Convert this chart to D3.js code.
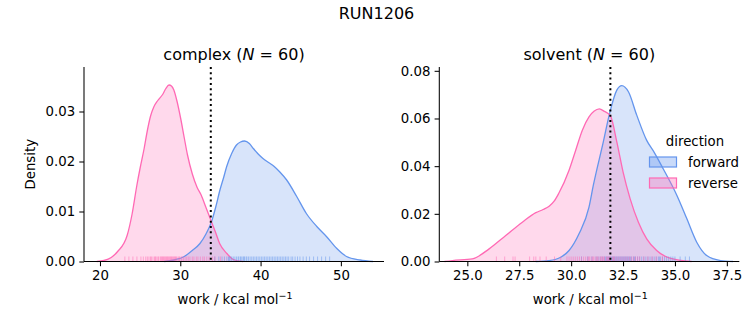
<!DOCTYPE html>
<html><head><meta charset="utf-8">
<script src="https://cdn.jsdelivr.net/npm/d3@7"></script>
<style>body{margin:0;background:#fff}svg{font-family:"DejaVu Sans",sans-serif}</style>
</head><body><svg id="c" width="753" height="325"></svg>
<script>
const figTitle = "RUN1206";
const directions = ["forward", "reverse"];
const colors = {forward: "#6495ED", reverse: "#FF69B4"};

// KDE curves: [work, density]
const complexForward = [[28.0,0],[29.2,0.0003],[30.5,0.001],[31.5,0.0022],[32.45,0.0036],[33.2,0.0055],[33.9,0.008],[34.4,0.0108],[34.94,0.0143],[35.4,0.0168],[35.78,0.019],[36.4,0.0216],[37.0,0.0233],[37.5,0.0239],[38.0,0.0241],[38.6,0.0236],[39.1,0.0226],[39.7,0.0215],[40.3,0.0206],[41.0,0.0198],[41.7,0.019],[42.4,0.0179],[43.25,0.0163],[44.5,0.013],[45.7,0.0096],[47.0,0.007],[48.2,0.005],[49.5,0.0026],[50.7,0.001],[52.4,0.0003],[54.0,0]];
const complexReverse = [[19.6,0],[20.5,0.0002],[21.4,0.0008],[22.2,0.002],[23.4,0.0053],[24.0,0.0095],[24.6,0.0153],[25.0,0.0187],[25.5,0.0226],[25.9,0.0262],[26.3,0.0291],[26.7,0.0309],[27.2,0.0322],[27.8,0.0334],[28.2,0.0346],[28.6,0.0353],[28.9,0.0351],[29.2,0.0343],[29.6,0.032],[30.05,0.0286],[30.5,0.0247],[30.9,0.0213],[31.5,0.0175],[32.1,0.0148],[32.6,0.0133],[33.2,0.0108],[33.8,0.0083],[34.4,0.0058],[34.9,0.0036],[35.8,0.0016],[36.6,0.0004],[37.8,0]];
const solventForward = [[28.3,0],[28.94,0.0004],[29.5,0.0018],[29.9,0.0046],[30.38,0.0116],[30.86,0.0228],[31.07,0.032],[31.55,0.0502],[31.87,0.0628],[32.2,0.0719],[32.44,0.0738],[32.76,0.0712],[33.16,0.0614],[33.64,0.0508],[34.0,0.0458],[34.44,0.0388],[35.09,0.0278],[35.57,0.018],[36.05,0.0081],[36.53,0.0025],[37.2,0.0004],[37.8,0]];
const solventReverse = [[23.9,0],[24.28,0.0004],[25.24,0.0011],[26.05,0.0053],[26.85,0.0109],[27.65,0.0165],[28.3,0.0205],[28.65,0.0218],[28.94,0.0232],[29.2,0.0255],[29.4,0.0285],[29.9,0.0383],[30.22,0.0467],[30.54,0.0551],[30.86,0.0607],[31.1,0.063],[31.36,0.064],[31.6,0.063],[31.89,0.0612],[32.2,0.0502],[32.5,0.0376],[32.84,0.0264],[33.24,0.0165],[33.64,0.0095],[34.12,0.0046],[34.76,0.0014],[35.8,0]];

// rug samples (work values)
const complexForwardRug = [34.3,34.8,35.2,35.5,35.8,36.0,36.2,36.4,36.6,36.8,37.0,37.2,37.3,37.5,37.6,37.8,37.9,38.0,38.2,38.3,38.5,38.7,38.9,39.1,39.3,39.5,39.7,39.9,40.1,40.3,40.5,40.7,40.9,41.1,41.3,41.5,41.7,41.9,42.1,42.3,42.5,42.7,42.9,43.1,43.3,43.5,43.8,44.0,44.3,44.6,44.9,45.3,45.7,46.1,46.6,47.1,47.6,48.1,48.6,36.1];
const complexReverseRug = [23.1,23.6,24.1,24.6,25.1,25.4,25.7,25.9,26.1,26.3,26.4,26.6,26.8,26.9,27.0,27.2,27.3,27.5,27.6,27.7,27.8,27.9,28.0,28.1,28.2,28.3,28.4,28.5,28.6,28.7,28.8,28.9,29.0,29.1,29.2,29.3,29.4,29.5,29.6,29.8,29.9,30.1,30.2,30.4,30.6,30.8,31.0,31.2,31.5,31.7,32.0,32.2,32.5,32.8,33.0,33.3,33.6,34.0,34.3,35.0];
const solventForwardRug = [30.5,30.8,31.0,31.2,31.3,31.4,31.5,31.6,31.7,31.75,31.8,31.85,31.9,31.95,32.0,32.05,32.1,32.15,32.2,32.25,32.3,32.35,32.4,32.45,32.5,32.55,32.6,32.65,32.7,32.75,32.8,32.9,33.0,33.1,33.2,33.3,33.4,33.5,33.6,33.7,33.8,33.9,34.0,34.1,34.2,34.3,34.4,34.5,34.6,34.7,34.8,34.9,35.0,35.25,35.5,35.7,33.05,32.85,31.65,34.25];
const solventReverseRug = [26.4,26.8,27.2,27.3,28.0,28.2,28.3,28.5,28.8,29.2,29.5,29.8,30.1,30.2,30.3,30.4,30.5,30.6,30.7,30.8,30.85,30.9,31.0,31.05,31.1,31.2,31.25,31.3,31.4,31.45,31.5,31.55,31.6,31.7,31.75,31.8,31.85,31.9,32.0,32.05,32.1,32.2,32.3,32.4,32.5,32.6,32.7,32.8,32.9,33.0,33.1,33.2,33.3,33.5,33.7,33.9,34.1,34.4,29.9,30.0];

const complexXTicks = [20, 30, 40, 50];
const complexYTicks = [0.00, 0.01, 0.02, 0.03];
const solventXTicks = [25.0, 27.5, 30.0, 32.5, 35.0, 37.5];
const solventYTicks = [0.00, 0.02, 0.04, 0.06, 0.08];
const meanLines = {complex: 33.8, solvent: 31.89};

const panels = [
  {name:"complex", n:60, left:84, xDomain:[18.01,55.37], yMax:0.0389, xTicks:complexXTicks, yTicks:complexYTicks, xFmt:d3.format("d"), yFmt:d3.format(".2f"),
   curves:{forward:complexForward, reverse:complexReverse}, rugs:{forward:complexForwardRug, reverse:complexReverseRug}, ylabel:true},
  {name:"solvent", n:60, left:439.3, xDomain:[23.65,38.10], yMax:0.0816, xTicks:solventXTicks, yTicks:solventYTicks, xFmt:d3.format(".1f"), yFmt:d3.format(".2f"),
   curves:{forward:solventForward, reverse:solventReverse}, rugs:{forward:solventForwardRug, reverse:solventReverseRug}, ylabel:false}
];
const W = 300, plotTop = 67, plotBottom = 261.5;
const svg = d3.select("#c");

svg.append("text").attr("x", 376.5).attr("y", 19).attr("text-anchor","middle")
  .attr("font-size", 16).attr("fill","#000").text(figTitle);

panels.forEach(p => {
  const x = d3.scaleLinear().domain(p.xDomain).range([p.left, p.left + W]);
  const y = d3.scaleLinear().domain([0, p.yMax]).range([plotBottom, plotTop]);
  const g = svg.append("g");
  const order = ["forward","reverse"];
  order.forEach(dir => {
    const area = d3.area().x(d => x(d[0])).y0(y(0)).y1(d => y(Math.max(0,d[1]))).curve(d3.curveMonotoneX);
    g.append("path").datum(p.curves[dir]).attr("d", area)
      .attr("fill", colors[dir]).attr("fill-opacity", 0.25).attr("stroke","none");
  });
  order.forEach(dir => {
    const line = d3.line().x(d => x(d[0])).y(d => y(Math.max(0,d[1]))).curve(d3.curveMonotoneX);
    g.append("path").datum(p.curves[dir]).attr("d", line)
      .attr("fill","none").attr("stroke", colors[dir]).attr("stroke-width", 1.3);
  });
  order.forEach(dir => {
    g.selectAll(null).data(p.rugs[dir]).join("line")
      .attr("x1", d => x(d)).attr("x2", d => x(d))
      .attr("y1", plotBottom).attr("y2", plotBottom - 5)
      .attr("stroke", colors[dir]).attr("stroke-opacity", 0.5).attr("stroke-width", 1);
  });
  g.append("line").attr("x1", x(meanLines[p.name])).attr("x2", x(meanLines[p.name]))
    .attr("y1", plotTop).attr("y2", plotBottom).attr("stroke","#000").attr("stroke-width",2)
    .attr("stroke-dasharray","2,3.3");

  const xAxis = d3.axisBottom(x).tickValues(p.xTicks).tickFormat(p.xFmt).tickSize(4.7).tickPadding(4.2);
  const yAxis = d3.axisLeft(y).tickValues(p.yTicks).tickFormat(p.yFmt).tickSize(4.7).tickPadding(4.2);
  const xa = svg.append("g").attr("transform", `translate(0,${plotBottom})`).call(xAxis);
  const ya = svg.append("g").attr("transform", `translate(${p.left},0)`).call(yAxis);
  [xa, ya].forEach(a => {
    a.select(".domain").remove();
    a.selectAll(".tick line").attr("stroke","#000").attr("stroke-width",1.05);
    a.selectAll(".tick text").attr("font-size", 13.3).attr("fill","#000").attr("font-family","DejaVu Sans");
  });
  svg.append("line").attr("x1", p.left).attr("x2", p.left + W).attr("y1", plotBottom).attr("y2", plotBottom).attr("stroke","#000").attr("stroke-width",1.05);
  svg.append("line").attr("x1", p.left).attr("x2", p.left).attr("y1", plotTop).attr("y2", plotBottom).attr("stroke","#000").attr("stroke-width",1.05);

  const t = svg.append("text").attr("x", p.left + W/2).attr("y", 60).attr("text-anchor","middle").attr("font-size",16).attr("fill","#000");
  t.append("tspan").text(p.name + " (");
  t.append("tspan").attr("font-style","italic").text("N");
  t.append("tspan").text(" = " + p.n + ")");

  const xl = svg.append("text").attr("x", p.left + W/2 + 1).attr("y", 304).attr("text-anchor","middle").attr("font-size",13.3).attr("fill","#000");
  xl.append("tspan").text("work / kcal mol");
  xl.append("tspan").attr("dy", -5).attr("font-size", 9.5).text("\u22121");
  if (p.ylabel) {
    svg.append("text").attr("transform", `translate(35,${(plotTop+plotBottom)/2}) rotate(-90)`)
      .attr("text-anchor","middle").attr("font-size",13.3).attr("fill","#000").text("Density");
  }
});

const lg = svg.append("g");
lg.append("text").attr("x", 695).attr("y", 146).attr("text-anchor","middle").attr("font-size",13.3).attr("fill","#000").text("direction");
directions.forEach((dir, i) => {
  const yy = 157 + i * 21;
  lg.append("rect").attr("x", 649.5).attr("y", yy).attr("width", 27).attr("height", 10)
    .attr("fill", colors[dir]).attr("fill-opacity", 0.35).attr("stroke", colors[dir]).attr("stroke-width", 1.2);
  lg.append("text").attr("x", 688).attr("y", yy + 9.5).attr("font-size",13.3).attr("fill","#000").text(dir);
});
</script></body></html>
